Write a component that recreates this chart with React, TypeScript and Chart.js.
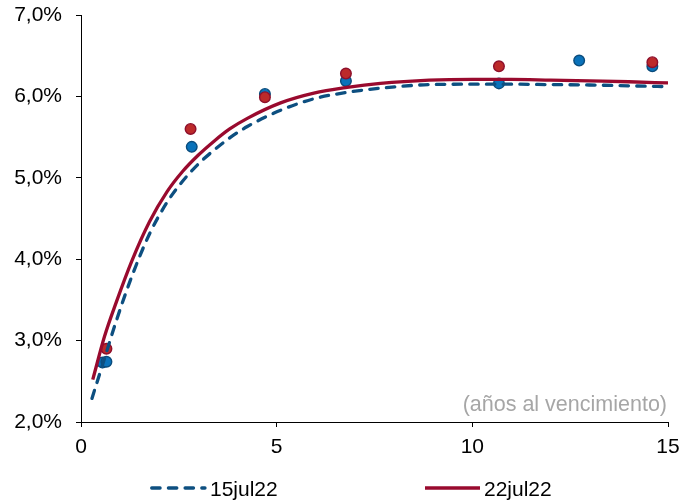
import React, { useEffect, useRef } from 'react';
import { Chart, registerables } from 'chart.js';

Chart.register(...registerables);

// ---- data ----
const seriesNames = ['15jul22', '22jul22'];

// fitted curve, 15jul22 (years, %)
const curve15X = [0.28, 0.6, 0.9, 1.3, 1.75, 2.2, 2.6, 3.0, 3.4, 3.8, 4.25, 5.1, 5.95, 6.8, 7.65, 8.9, 10, 11, 12, 13, 14, 15];
const curve15Y = [2.29, 2.78, 3.24, 3.79, 4.31, 4.70, 4.96, 5.17, 5.34, 5.49, 5.63, 5.83, 5.97, 6.05, 6.10, 6.145, 6.15, 6.15, 6.145, 6.14, 6.13, 6.12];

// fitted curve, 22jul22
const curve22X = [0.3, 0.6, 0.9, 1.3, 1.75, 2.2, 2.6, 3.0, 3.4, 3.8, 4.25, 5.1, 5.95, 6.8, 7.65, 8.9, 10, 11, 12, 13, 14, 15];
const curve22Y = [2.52, 3.05, 3.47, 3.98, 4.46, 4.83, 5.08, 5.28, 5.45, 5.60, 5.73, 5.92, 6.04, 6.11, 6.16, 6.20, 6.21, 6.21, 6.20, 6.19, 6.18, 6.165];

// observed yields
const dots15X = [0.55, 0.65, 2.83, 4.70, 6.77, 10.68, 12.73, 14.60];
const dots15Y = [2.73, 2.74, 5.38, 6.03, 6.19, 6.16, 6.44, 6.37];
const dots22X = [0.65, 2.80, 4.70, 6.77, 10.68, 14.60];
const dots22Y = [2.90, 5.60, 5.99, 6.28, 6.37, 6.42];

const xTicks = [0, 5, 10, 15];
const xTickLabels = ['0', '5', '10', '15'];
const yTicks = [2, 3, 4, 5, 6, 7];
const yTickLabels = ['2,0%', '3,0%', '4,0%', '5,0%', '6,0%', '7,0%'];
const axisNote = '(años al vencimiento)';

// ---- styles ----
const FONT = '"Liberation Sans", Arial, Helvetica, sans-serif';
const BLUE_LINE = '#0D4F80';
const RED_LINE = '#990A2E';
const BLUE_DOT = '#0A72BA';
const BLUE_DOT_BORDER = '#0B4C7C';
const RED_DOT = '#BC2A2A';
const RED_DOT_BORDER = '#8E0F2B';
const DASH = [8.4, 8.3];

const zip = (xs: number[], ys: number[]) => xs.map((x, i) => ({ x, y: ys[i] }));

const notePlugin = {
  id: 'axisNote',
  afterDraw(chart: any) {
    const { ctx, chartArea } = chart;
    ctx.save();
    ctx.font = `21.5px ${FONT}`;
    ctx.fillStyle = '#A6A6A6';
    ctx.textAlign = 'right';
    ctx.textBaseline = 'middle';
    ctx.fillText(axisNote, chartArea.right - 1, chartArea.bottom - 17);
    ctx.restore();
  },
};

export default function App() {
  const ref = useRef<HTMLCanvasElement>(null);

  useEffect(() => {
    if (!ref.current) return;
    const chart = new Chart(ref.current, {
      type: 'scatter',
      data: {
        datasets: [
          {
            label: seriesNames[1],
            data: zip(curve22X, curve22Y),
            showLine: true,
            borderColor: RED_LINE,
            backgroundColor: RED_LINE,
            borderWidth: 3.3,
            pointRadius: 0,
            pointHoverRadius: 0,
            cubicInterpolationMode: 'monotone',
            order: 0,
          },
          {
            label: seriesNames[0],
            data: zip(curve15X, curve15Y),
            showLine: true,
            borderColor: BLUE_LINE,
            backgroundColor: BLUE_LINE,
            borderWidth: 3.3,
            borderDash: DASH,
            borderCapStyle: 'round',
            pointRadius: 0,
            pointHoverRadius: 0,
            cubicInterpolationMode: 'monotone',
            order: 1,
          },
          {
            label: seriesNames[1] + ' obs',
            data: zip(dots22X, dots22Y),
            showLine: false,
            pointRadius: 5.3,
            pointBackgroundColor: RED_DOT,
            pointBorderColor: RED_DOT_BORDER,
            pointBorderWidth: 1.4,
            order: 2,
          },
          {
            label: seriesNames[0] + ' obs',
            data: zip(dots15X, dots15Y),
            showLine: false,
            pointRadius: 5.3,
            pointBackgroundColor: BLUE_DOT,
            pointBorderColor: BLUE_DOT_BORDER,
            pointBorderWidth: 1.4,
            order: 3,
          },
        ],
      } as any,
      options: {
        responsive: false,
        animation: false,
        events: [],
        layout: { padding: { top: 15, right: 12, left: 0, bottom: 0 } },
        plugins: {
          legend: { display: false },
          tooltip: { enabled: false },
          title: { display: false },
        },
        scales: {
          x: {
            type: 'linear',
            min: 0,
            max: 15,
            afterBuildTicks: (s: any) => {
              s.ticks = xTicks.map((v) => ({ value: v }));
            },
            afterFit: (s: any) => {
              s.height = 80;
              s.paddingLeft = 0;
              s.paddingRight = 0;
            },
            ticks: {
              color: '#000',
              font: { family: FONT, size: 21 },
              padding: 8,
              maxRotation: 0,
              autoSkip: false,
              callback: (v: any) => xTickLabels[xTicks.indexOf(Number(v))],
            },
            grid: {
              display: true,
              drawOnChartArea: false,
              drawTicks: true,
              tickLength: 5,
              color: '#000',
              lineWidth: 1,
            },
            border: { display: true, color: '#000', width: 1 },
          },
          y: {
            type: 'linear',
            min: 2,
            max: 7,
            afterBuildTicks: (s: any) => {
              s.ticks = yTicks.map((v) => ({ value: v }));
            },
            afterFit: (s: any) => {
              s.width = 81;
              s.paddingTop = 0;
              s.paddingBottom = 0;
            },
            ticks: {
              color: '#000',
              font: { family: FONT, size: 21 },
              padding: 14,
              autoSkip: false,
              callback: (v: any) => yTickLabels[yTicks.indexOf(Number(v))],
            },
            grid: {
              display: true,
              drawOnChartArea: false,
              drawTicks: true,
              tickLength: 5,
              color: '#000',
              lineWidth: 1,
            },
            border: { display: true, color: '#000', width: 1 },
          },
        },
      } as any,
      plugins: [notePlugin],
    });
    return () => chart.destroy();
  }, []);

  return (
    <div style={{ position: 'absolute', left: 0, top: 0, width: 680, height: 502, background: '#fff' }}>
      <canvas ref={ref} width={680} height={502} style={{ display: 'block', width: 680, height: 502 }} />
      <svg
        width={680}
        height={28}
        style={{ position: 'absolute', left: 0, top: 474 }}
        fontFamily={FONT}
        fontSize={21}
      >
        <line x1={151.7} y1={14} x2={205} y2={14} stroke={BLUE_LINE} strokeWidth={3.3} strokeDasharray={DASH.join(' ')} strokeLinecap="round" />
        <text x={210} y={14} dominantBaseline="central" fill="#000">{seriesNames[0]}</text>
        <line x1={425} y1={14} x2={480} y2={14} stroke={RED_LINE} strokeWidth={3.5} />
        <text x={484} y={14} dominantBaseline="central" fill="#000">{seriesNames[1]}</text>
      </svg>
    </div>
  );
}
